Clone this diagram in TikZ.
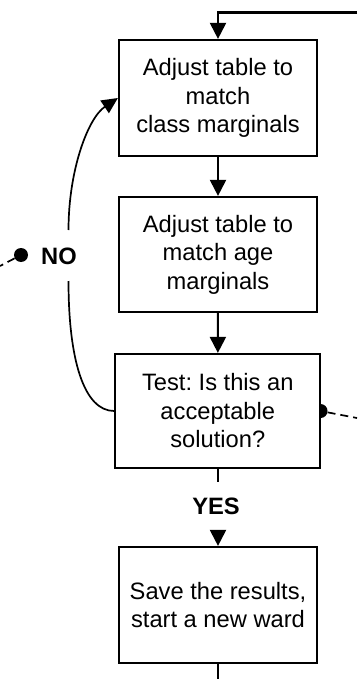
\documentclass[tikz,border=0pt]{standalone}
\usepackage{fontspec}
\setmainfont{Liberation Sans}
\usetikzlibrary{arrows.meta}
\begin{document}
\frenchspacing
\begin{tikzpicture}[x=1pt,y=-1pt,
  stepbox/.style={draw,line width=2.2pt,fill=white,inner sep=0pt,
    minimum width=198pt,minimum height=116pt,align=center,
    font=\fontsize{23.7}{28.5}\selectfont},
  flow/.style={line width=2.1pt},
  arrowline/.style={flow,-{Triangle[length=16pt,width=16pt]}},
  loopline/.style={line width=1.7pt},
  dot/.style={circle,fill=black,inner sep=0pt,minimum size=14pt},
  link/.style={line width=1.7pt,dash pattern=on 8pt off 5pt},
  answer/.style={font=\fontsize{23.7}{28.5}\selectfont\bfseries,inner sep=0pt}]
\useasboundingbox (0,0) rectangle (357,679);

% connector dots (the box edge covers half of the right one)
\node[dot] (okdot) at (320.5,411) {};
\node[dot] (nodot) at (21,255) {};

% process boxes
\node[stepbox] (classadj) at (218,98) {Adjust table to\\match\\class marginals};
\node[stepbox,minimum height=115pt] (ageadj) at (218,254.5) {Adjust table to\\match age\\marginals};
\node[stepbox,minimum width=205pt,minimum height=114pt] (test) at (217.8,411) {Test: Is this an\\acceptable\\solution?};
\node[stepbox] (save) at (218,605) {Save the results,\\start a new ward};

% answer labels
\node[answer,minimum height=49pt] (yes) at (216,506.5) {YES};
\node[answer] (no) at (59,256) {NO};

% free ends and bends
\coordinate (topright) at (357,12.5);
\coordinate (botend) at (218,679);
\coordinate (nolow) at (68.5,281);
\coordinate (nohigh) at (68.5,230);
\coordinate (leftend) at (0,266);
\coordinate (rightend) at (357,418);

% main flow
\draw[arrowline] (topright) -| (classadj.north);
\draw[arrowline] (classadj) -- (ageadj);
\draw[arrowline] (ageadj) -- (test);
\draw[flow] (test.south) -- (test.south |- yes.north);
\draw[arrowline] (save.north |- yes.south) -- (save.north);
\draw[flow] (save.south) -- (botend);

% loop back on NO
\draw[loopline] (test.west) .. controls (84,411) and (68.5,360) .. (nolow);
\draw[loopline,-{Triangle[length=16pt,width=15pt]}] (nohigh) .. controls (68.5,170) and (88,118) .. (classadj.west);

% links leaving the page
\draw[link] (nodot) -- (leftend);
\draw[link] (okdot) -- (rightend);
\end{tikzpicture}
\end{document}
